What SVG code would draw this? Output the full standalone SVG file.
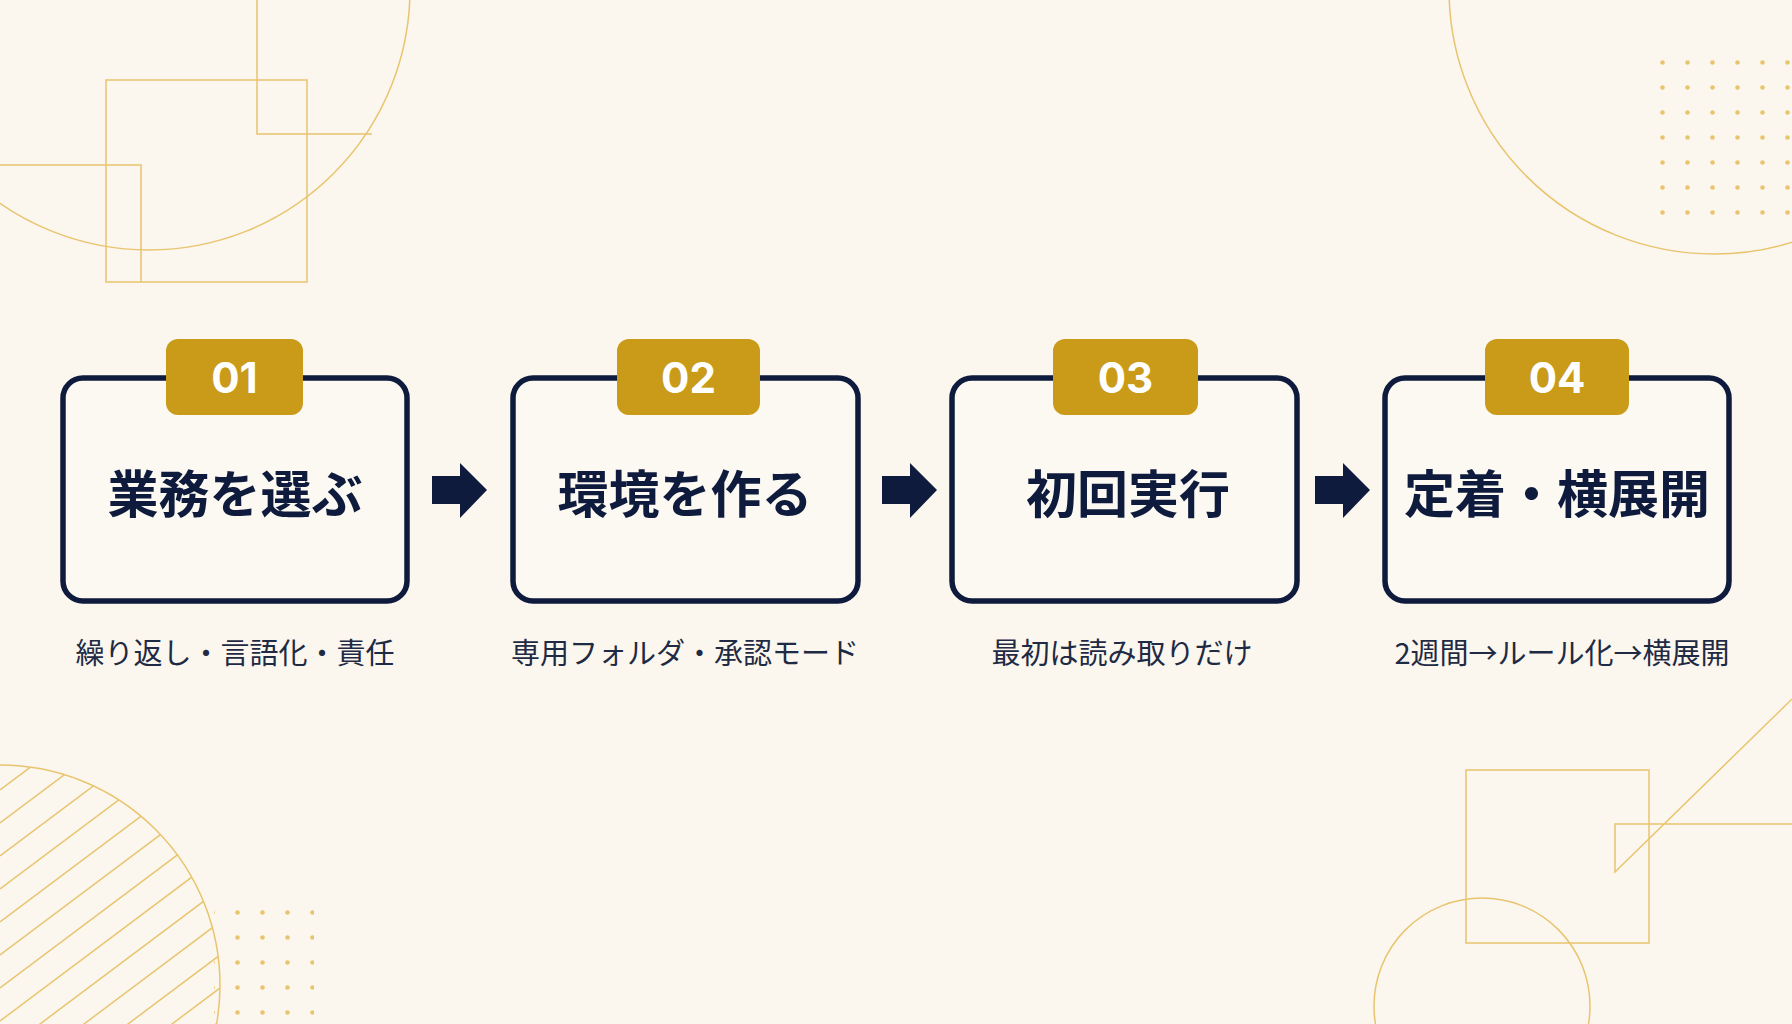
<svg xmlns="http://www.w3.org/2000/svg" width="1792" height="1024" viewBox="0 0 1792 1024">
<defs>
<style>
.deco{fill:none;stroke:#e9c46e;stroke-width:1.5}
.dot{fill:#e9c46e}
.box{fill:#fcf9f2;stroke:#0f1b3d;stroke-width:5.5}
.badge{fill:#c99b19}
.num{font-family:"Inter","Noto Sans",sans-serif;font-weight:700;font-size:42px;fill:#fff;text-anchor:middle}
.title{font-family:"Noto Sans CJK JP",sans-serif;font-weight:700;font-size:51px;fill:#0f1b3d;text-anchor:middle}
.sub{font-family:"Noto Sans CJK JP",sans-serif;font-size:29px;fill:#1f2a44;text-anchor:middle}
.arrow{fill:#0f1b3d}
</style>
<clipPath id="bl"><circle cx="0" cy="985" r="220"/></clipPath>
<pattern id="dots" width="25" height="25" patternUnits="userSpaceOnUse"><circle cx="12.5" cy="12.5" r="2.3" class="dot"/></pattern>
</defs>
<rect width="1792" height="1024" fill="#fbf7ee"/>
<g id="decor">
<circle class="deco" cx="149" cy="-11" r="261"/>
<rect class="deco" x="106" y="80" width="201" height="202"/>
<path class="deco" d="M257 0V134H372M0 165H141V282"/>
<circle class="deco" cx="1714" cy="-11" r="265"/>
<rect x="1645" y="51" width="150" height="175" fill="url(#dots)"/>
<circle class="deco" cx="0" cy="985" r="220"/>
<g clip-path="url(#bl)" class="deco" stroke-width="1.2">
<path d="M0 790L260 595M0 823L260 628M0 856L260 661M0 889L260 694M0 922L260 727M0 955L260 760M0 988L260 793M0 1021L260 826M0 1054L260 859M0 1087L260 892M0 1120L260 925M0 1153L260 958M0 1186L260 991M0 1219L260 1024M0 1252L260 1057M0 757L260 562"/>
</g>
<rect x="214" y="893" width="100" height="131" fill="url(#dots)"/>
<rect class="deco" x="1466" y="770" width="183" height="173"/>
<path class="deco" d="M1792 699L1615 872V824H1792"/>
<circle class="deco" cx="1482" cy="1006" r="108"/>
</g>
<g id="connectors">
<path class="arrow" d="M432 476H460V463L487 490L460 518V504H432Z"/>
<path class="arrow" d="M882 476H910V463L937 490L910 518V504H882Z"/>
<path class="arrow" d="M1315 476H1343V463L1370 490L1343 518V504H1315Z"/>
</g>
<g id="step1">
<rect class="box" x="63" y="378" width="344" height="223" rx="20"/>
<rect class="badge" x="166" y="339" width="137" height="76" rx="12"/>
<text class="num" x="234.5" y="393">01</text>
<text class="title" x="235" y="513">業務を選ぶ</text>
<text class="sub" x="235" y="664">繰り返し・言語化・責任</text>
</g>
<g id="step2">
<rect class="box" x="513" y="378" width="345" height="223" rx="20"/>
<rect class="badge" x="617" y="339" width="143" height="76" rx="12"/>
<text class="num" x="688.5" y="393">02</text>
<text class="title" x="685" y="513">環境を作る</text>
<text class="sub" x="685" y="664">専用フォルダ・承認モード</text>
</g>
<g id="step3">
<rect class="box" x="952" y="378" width="345" height="223" rx="20"/>
<rect class="badge" x="1053" y="339" width="145" height="76" rx="12"/>
<text class="num" x="1125.5" y="393">03</text>
<text class="title" x="1128" y="513">初回実行</text>
<text class="sub" x="1122" y="664">最初は読み取りだけ</text>
</g>
<g id="step4">
<rect class="box" x="1385" y="378" width="344" height="223" rx="20"/>
<rect class="badge" x="1485" y="339" width="144" height="76" rx="12"/>
<text class="num" x="1557" y="393">04</text>
<text class="title" x="1557" y="513">定着・横展開</text>
<text class="sub" x="1562" y="664">2週間→ルール化→横展開</text>
</g>
</svg>
